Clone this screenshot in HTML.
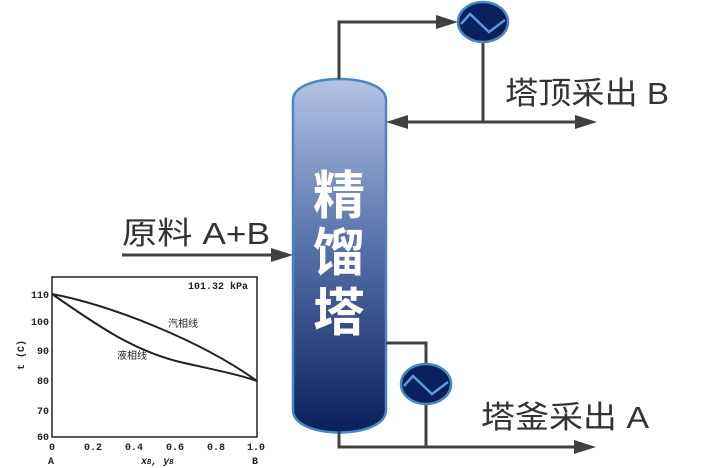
<!DOCTYPE html>
<html><head><meta charset="utf-8"><style>
html,body{margin:0;padding:0;background:#fff;}
svg{display:block;}
</style></head><body>
<svg width="709" height="468" viewBox="0 0 709 468" xmlns="http://www.w3.org/2000/svg">
<defs>
<linearGradient id="g" x1="0" y1="0" x2="0" y2="1">
<stop offset="0" stop-color="#b3c4e4"/>
<stop offset="0.45" stop-color="#5a74ad"/>
<stop offset="1" stop-color="#0a1f5c"/>
</linearGradient>
</defs>
<!-- column -->
<path d="M293,100 C293,72 386,72 386,100 L386,410 C386,440 293,440 293,410 Z" fill="url(#g)" stroke="#4a86c0" stroke-width="2.5"/>
<g fill="#fff" font-family="'Noto Sans CJK SC',sans-serif" font-size="52" font-weight="bold" text-anchor="middle">
<text x="339" y="214">精</text>
<text x="339" y="271">馏</text>
<text x="339" y="331">塔</text>
</g>
<g stroke="#404040" stroke-width="3" fill="none">
<polyline points="339,79 339,22 440,22" />
<line x1="483" y1="42" x2="483" y2="122"/>
<line x1="400" y1="122" x2="575" y2="122"/>
<line x1="122" y1="255" x2="275" y2="255"/>
<polyline points="386,343 426,343 426,364"/>
<line x1="426" y1="404" x2="426" y2="447"/>
<polyline points="339,431 339,447 575,447"/>
</g>
<g fill="#404040">
<path d="M436,15 L458,22 L436,29 z"/>
<path d="M408,115 L386,122 L408,129 z"/>
<path d="M575,115 L597,122 L575,129 z"/>
<path d="M271,248 L293,255 L271,262 z"/>
<path d="M574,440 L596,447 L574,454 z"/>
</g>
<!-- heat exchangers -->
<g>
<ellipse cx="483" cy="22" rx="25" ry="20" fill="#0a205d" stroke="#4a86c0" stroke-width="2.5"/>
<polyline points="461,24 470,14 489,32 505,20" fill="none" stroke="#5c9bd8" stroke-width="2.5"/>
<ellipse cx="426" cy="384" rx="25" ry="20" fill="#0a205d" stroke="#4a86c0" stroke-width="2.5"/>
<polyline points="404,386 413,376 432,394 448,382" fill="none" stroke="#5c9bd8" stroke-width="2.5"/>
</g>
<g fill="#333" font-family="'Liberation Sans','Noto Sans CJK SC',sans-serif" font-size="31">
<text x="505" y="104" textLength="164" lengthAdjust="spacingAndGlyphs">塔顶采出 B</text>
<text x="481" y="428" textLength="168" lengthAdjust="spacingAndGlyphs">塔釜采出 A</text>
<text x="122" y="244" textLength="148" lengthAdjust="spacingAndGlyphs">原料 A+B</text>
</g>
<!-- chart -->
<g stroke="#222" fill="none">
<rect x="52" y="277" width="205" height="160" stroke-width="1.5"/>
<path d="M52,294 C110,305 200,340 257,381" stroke-width="2"/>
<path d="M52,294 C90,320 130,350 180,362 C220,371 240,375 257,381" stroke-width="2"/>
</g>
<g font-family="'Liberation Mono','Noto Sans CJK SC',monospace" font-size="10" font-weight="bold" fill="#222">
<text x="188" y="289">101.32 kPa</text>
<text x="31" y="298">110</text>
<text x="31" y="325">100</text>
<text x="37" y="354">90</text>
<text x="37" y="384">80</text>
<text x="37" y="414">70</text>
<text x="37" y="440">60</text>
<text x="49" y="450">0</text>
<text x="84" y="450">0.2</text>
<text x="125" y="450">0.4</text>
<text x="166" y="450">0.6</text>
<text x="207" y="450">0.8</text>
<text x="247" y="450">1.0</text>
<text x="48" y="464">A</text>
<text x="252" y="464">B</text>
<text x="141" y="464" font-style="italic">x<tspan font-size="7">B</tspan>, y<tspan font-size="7">B</tspan></text>
<text x="24" y="370" transform="rotate(-90 24 370)">t (C)</text>
<text x="168" y="327" font-size="10" font-weight="normal">汽相线</text>
<text x="117" y="359" font-size="10" font-weight="normal">液相线</text>
</g>
</svg>
</body></html>
